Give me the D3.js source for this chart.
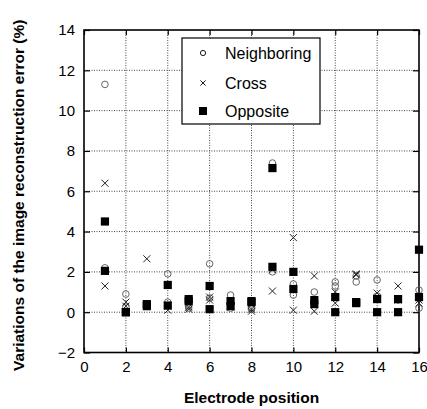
<!DOCTYPE html>
<html>
<head>
<meta charset="utf-8">
<script src="https://cdn.jsdelivr.net/npm/d3@7"></script>
<style>
html,body{margin:0;padding:0;background:#fff;}
svg{display:block;}
text{font-family:"Liberation Sans",Arial,sans-serif;}
</style>
</head>
<body>
<svg id="chart" width="427" height="409"></svg>
<script>
// Data: two values per electrode position for each series
const positions    = [1,2,3,4,5,6,7,8,9,10,11,12,13,14,15,16];
const neighboringA = [11.3,0.9,0.35,1.9,0.2,2.4,0.85,0.2,7.4,1.4,1.0,1.5,1.8,1.6,0.6,1.1];
const neighboringB = [2.2,0.25,0.3,0.5,0.3,0.7,0.2,0.15,2.0,0.85,0.5,1.3,1.5,0.8,0.0,0.2];
const crossA       = [6.4,0.5,2.65,0.1,0.25,0.75,0.3,0.05,1.05,3.7,1.8,1.0,1.9,0.95,1.3,0.6];
const crossB       = [1.3,0.3,0.35,0.3,0.15,0.6,0.25,0.15,2.1,0.1,0.05,0.45,1.85,0.7,0.6,0.45];
const oppositeA    = [4.5,0.0,0.4,1.35,0.65,1.3,0.55,0.55,7.15,2.0,0.6,0.75,0.5,0.65,0.65,3.1];
const oppositeB    = [2.05,0.0,0.3,0.33,0.55,0.15,0.3,0.5,2.25,1.15,0.4,0.0,0.45,0.0,0.0,0.75];
const xTicks = [0,2,4,6,8,10,12,14,16];
const yTicks = [-2,0,2,4,6,8,10,12,14];
const legendLabels = ["Neighboring","Cross","Opposite"];
const xTitle = "Electrode position";
const yTitle = "Variations of the image reconstruction error (%)";

const svg = d3.select("#chart");
const L = 84, R = 419, T = 30, B = 352.5;
const x = d3.scaleLinear().domain([0,16]).range([L,R]);
const y = d3.scaleLinear().domain([-2,14]).range([B,T]);

// gridlines
const grid = svg.append("g").attr("stroke","#444").attr("stroke-width",1).attr("stroke-dasharray","1,1.5");
grid.selectAll(".gx").data(xTicks.slice(1,-1)).join("line")
  .attr("x1",d=>x(d)).attr("x2",d=>x(d)).attr("y1",T).attr("y2",B);
grid.selectAll(".gy").data(yTicks.slice(1,-1)).join("line")
  .attr("y1",d=>y(d)).attr("y2",d=>y(d)).attr("x1",L).attr("x2",R);

// axes
const fmt = d3.format("d");
const axB = svg.append("g").attr("transform",`translate(0,${B})`)
  .call(d3.axisBottom(x).tickValues(xTicks).tickSize(-5).tickPadding(9).tickFormat(fmt));
const axT = svg.append("g").attr("transform",`translate(0,${T})`)
  .call(d3.axisTop(x).tickValues(xTicks).tickSize(-5).tickFormat(""));
const axL = svg.append("g").attr("transform",`translate(${L},0)`)
  .call(d3.axisLeft(y).tickValues(yTicks).tickSize(-6).tickPadding(9).tickFormat(fmt));
const axR = svg.append("g").attr("transform",`translate(${R},0)`)
  .call(d3.axisRight(y).tickValues(yTicks).tickSize(-6).tickFormat(""));
[axB,axT,axL,axR].forEach(a=>{
  a.select(".domain").remove();
  a.selectAll(".tick line").attr("stroke","#000").attr("stroke-width",1.2);
  a.selectAll(".tick text").attr("font-size",15).attr("fill","#000")
    .style("font-family","'Liberation Sans',Arial,sans-serif");
});
// frame
svg.append("rect").attr("x",L).attr("y",T).attr("width",R-L).attr("height",B-T)
  .attr("fill","none").attr("stroke","#000").attr("stroke-width",1.6);

// marks
const pts = (arr)=>positions.map((p,i)=>({x:p,y:arr[i]}));
const marks = svg.append("g");
function circles(data){
  marks.append("g").selectAll("circle").data(data).join("circle")
    .attr("cx",d=>x(d.x)).attr("cy",d=>y(d.y)).attr("r",3.3)
    .attr("fill","none").attr("stroke","#555").attr("stroke-width",0.9);
}
function crosses(data,s){
  s = s||3.5;
  const g = marks.append("g").attr("stroke","#222").attr("stroke-width",1);
  g.selectAll("path").data(data).join("path")
    .attr("d",d=>{const cx=x(d.x),cy=y(d.y);
      return `M${cx-s},${cy-s}L${cx+s},${cy+s}M${cx-s},${cy+s}L${cx+s},${cy-s}`;});
}
function squares(data){
  const s=8.2;
  marks.append("g").selectAll("rect").data(data).join("rect")
    .attr("x",d=>x(d.x)-s/2).attr("y",d=>y(d.y)-s/2).attr("width",s).attr("height",s)
    .attr("fill","#000");
}
circles(pts(neighboringA)); circles(pts(neighboringB));
crosses(pts(crossA)); crosses(pts(crossB));
squares(pts(oppositeA)); squares(pts(oppositeB));

// legend
const lg = svg.append("g");
lg.append("rect").attr("x",182).attr("y",38).attr("width",138).attr("height",86)
  .attr("fill","#fff").attr("stroke","#000").attr("stroke-width",1.2);
const rows = [53,83,111];
const mx = 203;
lg.append("circle").attr("cx",mx).attr("cy",rows[0]).attr("r",2.6)
  .attr("fill","none").attr("stroke","#000").attr("stroke-width",0.9);
lg.append("path").attr("d",`M${mx-2.6},${rows[1]-2.6}L${mx+2.6},${rows[1]+2.6}M${mx-2.6},${rows[1]+2.6}L${mx+2.6},${rows[1]-2.6}`)
  .attr("stroke","#000").attr("stroke-width",0.9);
lg.append("rect").attr("x",mx-4).attr("y",rows[2]-4).attr("width",8).attr("height",8).attr("fill","#000");
lg.selectAll("text").data(legendLabels).join("text")
  .attr("x",225).attr("y",(d,i)=>rows[i]+5.8).attr("font-size",16).attr("fill","#000").text(d=>d);

// titles
svg.append("text").attr("x",(L+R)/2).attr("y",403).attr("text-anchor","middle")
  .attr("font-size",15.5).attr("font-weight","bold").text(xTitle);
svg.append("text").attr("transform",`translate(23.5,${(T+B)/2+4}) rotate(-90)`)
  .attr("text-anchor","middle").attr("font-size",15.5).attr("font-weight","bold").text(yTitle);
</script>
</body>
</html>
